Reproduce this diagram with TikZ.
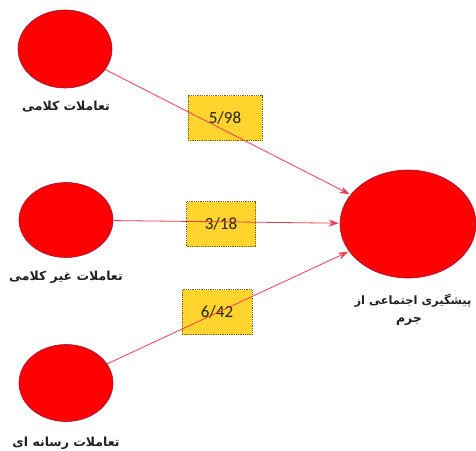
\documentclass[tikz,border=0pt]{standalone}
\usepackage{fontspec}
\usetikzlibrary{shapes.geometric,arrows.meta}
\TeXXeTstate=1
\newfontfamily\arabicfont[Script=Arabic]{DejaVu Sans}
\setsansfont{Carlito}
\definecolor{nodered}{RGB}{255,0,0}
\definecolor{linered}{RGB}{232,62,80}
\definecolor{boxfill}{RGB}{255,212,44}
\definecolor{boxedge}{RGB}{120,100,40}
\definecolor{txt}{RGB}{34,34,34}
\tikzset{
  redball/.style={ellipse, fill=nodered, draw={rgb,255:red,150;green,20;blue,60}, line width=0.6pt, inner sep=0pt},
  coefbox/.style={rectangle, fill=boxfill, draw=boxedge, densely dotted, line width=0.8pt, inner sep=0pt, font=\sffamily\fontsize{17}{17}\selectfont, text=txt},
  lbl/.style={font=\arabicfont\bfseries\fontsize{12.5}{15}\selectfont, text=txt, align=center},
  arr/.style={draw=linered, line width=0.8pt, -{Stealth[length=10pt,width=7pt]}, shorten >=1pt}
}
\begin{document}
\begin{tikzpicture}[x=1pt,y=-1pt]
\useasboundingbox (0,0) rectangle (476,450);
\fill[white] (0,0) rectangle (476,450);
\node[redball, minimum width=94pt, minimum height=78pt] (c1) at (65,49) {};
\node[redball, minimum width=94pt, minimum height=75pt] (c2) at (66,220) {};
\node[redball, minimum width=94pt, minimum height=77pt] (c3) at (66,383) {};
\node[redball, minimum width=136pt, minimum height=108pt] (big) at (408,224) {};
\node[lbl] (l1) at (66,107) {\beginR تعاملات کلامی\endR};
\node[lbl] (l2) at (66,277) {\beginR تعاملات غیر کلامی\endR};
\node[lbl] (l3) at (66,443) {\beginR تعاملات رسانه ای\endR};
\node[lbl, font=\arabicfont\bfseries\fontsize{11.5}{14}\selectfont] (l4a) at (413,301) {\beginR پیشگیری اجتماعی از\endR};
\node[lbl] (l4b) at (409,321) {\beginR جرم\endR};
\node[coefbox, minimum width=74pt, minimum height=45pt] (b1) at (225,118) {5/98};
\node[coefbox, minimum width=69pt, minimum height=45pt] (b2) at (221,224) {3/18};
\node[coefbox, minimum width=70pt, minimum height=45pt] (b3) at (217,312) {6/42};
\draw[arr] (c1) -- (big);
\draw[arr] (c2) -- (big);
\draw[arr] (c3) -- (big);
\end{tikzpicture}
\end{document}
